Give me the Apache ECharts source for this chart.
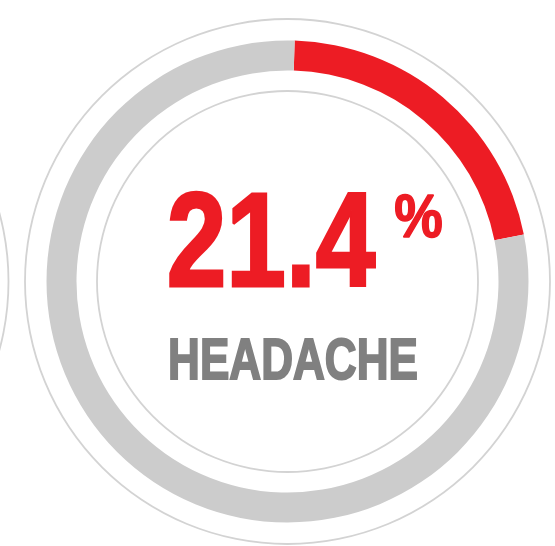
<!DOCTYPE html>
<html>
<head>
<meta charset="utf-8">
<script src="https://cdn.jsdelivr.net/npm/echarts@6/dist/echarts.min.js"></script>
<style>
html,body{margin:0;padding:0;background:#fff;}
#chart{width:555px;height:546px;}
</style>
</head>
<body>
<div id="chart"></div>
<script>
const categories = ['HEADACHE'];
const percentValues = [21.4];
const valueLabels = ['21.4'];
const unitLabel = '%';

const chart = echarts.init(document.getElementById('chart'), null, {renderer: 'canvas'});
const RED = '#ED1C24', GRAY = '#CCCCCC', LINE = '#D3D3D3', TXT = '#808080';
const cx = 287.5, cy = 281.5;
const FONT = "'Liberation Sans', Arial, sans-serif";

function thinRing(center, r) {
  return {
    type: 'pie', silent: true, animation: false, center: center,
    radius: [r - 0.9, r + 0.9], label: {show: false}, labelLine: {show: false},
    itemStyle: {color: LINE}, data: [{value: 1}]
  };
}

const option = {
  backgroundColor: '#ffffff',
  series: [
    thinRing([cx, cy], 262.5),
    thinRing([cx, cy], 190.5),
    thinRing([cx - 541.5, cy], 262.5),
    {
      type: 'pie', silent: true, animation: false,
      center: [cx, cy], radius: [211, 241],
      startAngle: 88.3, clockwise: true,
      label: {show: false}, labelLine: {show: false},
      data: [
        {name: categories[0], value: percentValues[0], itemStyle: {color: RED}},
        {name: 'rest', value: 100 - percentValues[0], itemStyle: {color: GRAY}}
      ]
    }
  ],
  graphic: [
    {type: 'text', x: 271, y: 249, scaleX: 0.80, style: {text: valueLabels[0], font: 'bold 134px ' + FONT, fill: RED, stroke: RED, lineWidth: 3, align: 'center', verticalAlign: 'middle'}},
    {type: 'text', x: 418.5, y: 220, scaleX: 0.88, style: {text: unitLabel, font: 'bold 62px ' + FONT, fill: RED, stroke: RED, lineWidth: 1.5, align: 'center', verticalAlign: 'middle'}},
    {type: 'text', x: 293, y: 363, scaleX: 0.76, style: {text: categories[0], font: 'bold 58px ' + FONT, fill: TXT, stroke: TXT, lineWidth: 2, align: 'center', verticalAlign: 'middle'}}
  ]
};
chart.setOption(option);
</script>
</body>
</html>
